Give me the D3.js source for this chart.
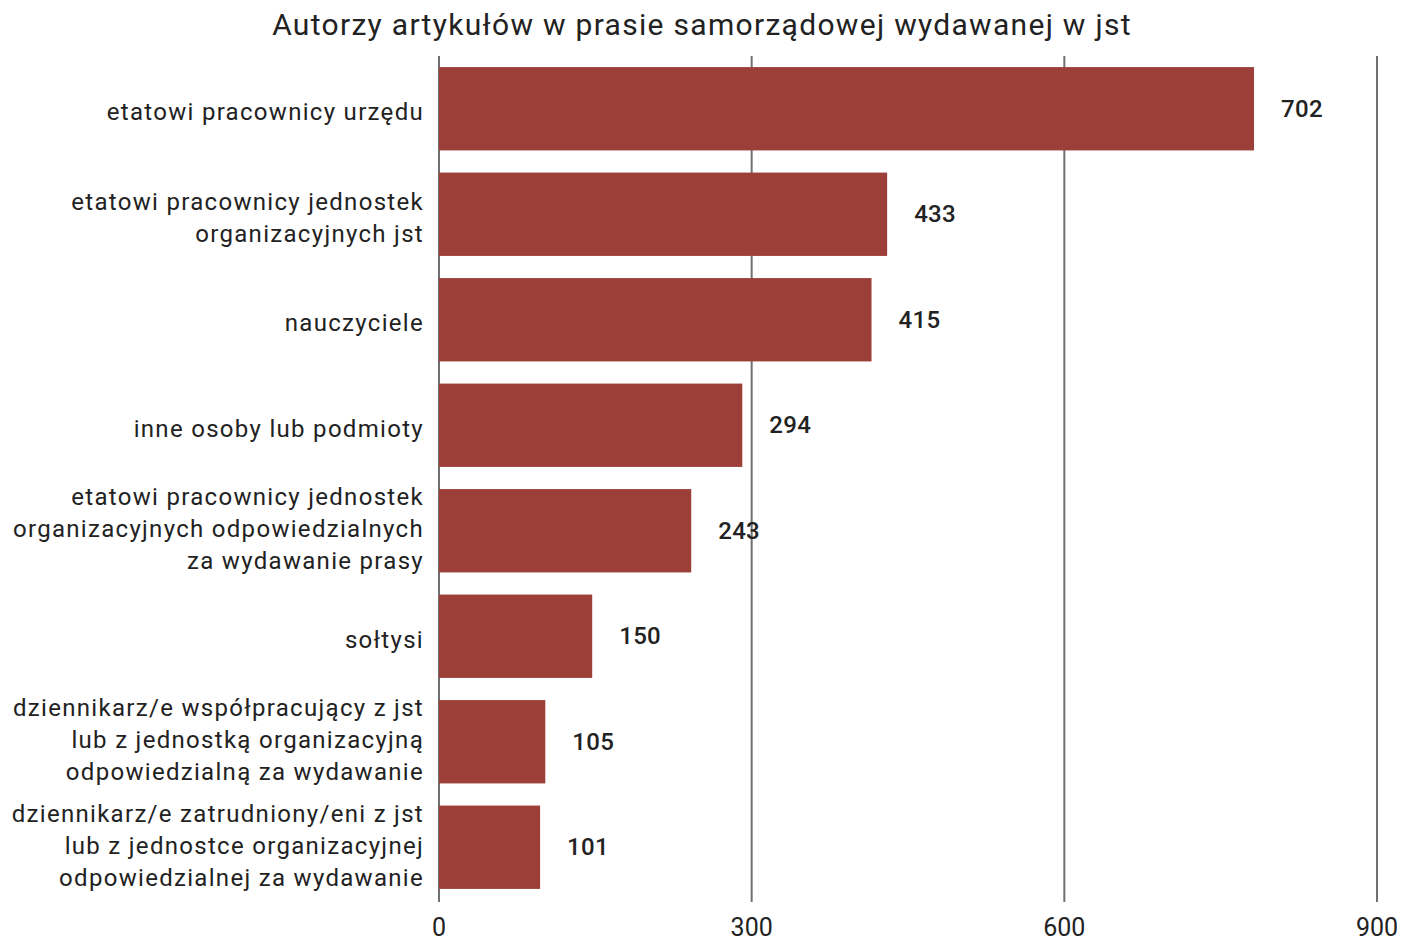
<!DOCTYPE html>
<html>
<head>
<meta charset="utf-8">
<script src="https://cdn.jsdelivr.net/npm/d3@7"></script>
<style>
  body { margin: 0; background: #fff; }
  text { font-family: Roboto, "DejaVu Sans", sans-serif; fill: #222; }
</style>
</head>
<body>
<div id="chart"></div>
<script>
const title = "Autorzy artykułów w prasie samorządowej wydawanej w jst";

const categories = [
  ["etatowi pracownicy urzędu"],
  ["etatowi pracownicy jednostek", "organizacyjnych jst"],
  ["nauczyciele"],
  ["inne osoby lub podmioty"],
  ["etatowi pracownicy jednostek", "organizacyjnych odpowiedzialnych", "za wydawanie prasy"],
  ["sołtysi"],
  ["dziennikarz/e współpracujący z jst", "lub z jednostką organizacyjną", "odpowiedzialną za wydawanie"],
  ["dziennikarz/e zatrudniony/eni z jst", "lub z jednostce organizacyjnej", "odpowiedzialnej za wydawanie"]
];

// printed value labels
const labels = [702, 433, 415, 294, 243, 150, 105, 101];
// bar lengths as drawn in the picture (first bar is drawn longer than its label)
const barValues = [782, 430, 415, 291, 242, 147, 102, 97];

const ticks = [0, 300, 600, 900];

const W = 1413, H = 942;
const margin = { top: 56, right: 36, bottom: 42, left: 439 };

const svg = d3.select("#chart").append("svg").attr("width", W).attr("height", H);

const x = d3.scaleLinear().domain([0, 900]).range([margin.left, W - margin.right]);
const y = d3.scaleBand()
  .domain(d3.range(categories.length))
  .range([margin.top, H - margin.bottom])
  .paddingInner(0.21)
  .paddingOuter(0.105);

// gridlines
svg.append("g")
  .selectAll("line")
  .data(ticks)
  .join("line")
  .attr("x1", d => x(d)).attr("x2", d => x(d))
  .attr("y1", margin.top).attr("y2", H - margin.bottom + 2)
  .attr("stroke", "#707070")
  .attr("stroke-width", 2);

// bars
svg.append("g")
  .selectAll("rect")
  .data(barValues)
  .join("rect")
  .attr("x", x(0))
  .attr("y", (d, i) => y(i))
  .attr("width", d => x(d) - x(0))
  .attr("height", y.bandwidth())
  .attr("fill", "#9c3f39");

// value labels
svg.append("g")
  .selectAll("text")
  .data(labels)
  .join("text")
  .attr("x", (d, i) => x(barValues[i]) + 27)
  .attr("y", (d, i) => y(i) + y.bandwidth() / 2)
  .attr("dy", "0.33em")
  .attr("font-size", 24)
  .attr("font-weight", 500)
  .attr("letter-spacing", 0.3)
  .text(d => d);

// category labels
const lineH = 32;
const cat = svg.append("g")
  .selectAll("text")
  .data(categories)
  .join("text")
  .attr("text-anchor", "end")
  .attr("font-size", 24)
  .attr("letter-spacing", 1.3)
  .attr("y", (d, i) => y(i) + y.bandwidth() / 2 + (d.length === 3 ? -2 : 3));
cat.selectAll("tspan")
  .data(d => d.map((t, j) => ({ t, j, n: d.length })))
  .join("tspan")
  .attr("x", x(0) - 15)
  .attr("dy", d => d.j === 0 ? ((-(d.n - 1) / 2) * lineH / 24 + 0.35) + "em" : lineH + "px")
  .text(d => d.t);

// x tick labels
svg.append("g")
  .selectAll("text")
  .data(ticks)
  .join("text")
  .attr("x", d => x(d))
  .attr("y", 936)
  .attr("text-anchor", "middle")
  .attr("font-size", 25)
  .text(d => d);

// title
svg.append("text")
  .attr("x", 702)
  .attr("y", 35)
  .attr("text-anchor", "middle")
  .attr("font-size", 30)
  .attr("letter-spacing", 1.3)
  .text(title);
</script>
</body>
</html>
